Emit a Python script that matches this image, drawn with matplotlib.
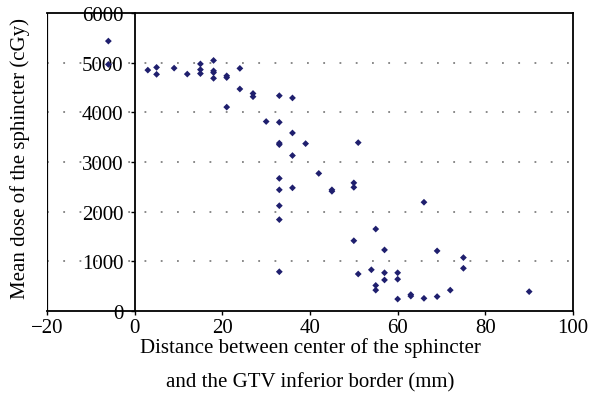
import matplotlib
matplotlib.use("Agg")
import matplotlib.pyplot as plt

distance_mm = [-6, -6, 3, 5, 5, 9, 12, 15, 15, 15, 18, 18, 18, 18, 21, 21, 21,
               24, 24, 27, 27, 30, 33, 33, 33, 33, 33, 33, 33, 33, 33, 36, 36,
               36, 36, 39, 42, 45, 45, 50, 50, 50, 51, 51, 54, 55, 55, 55, 57,
               57, 57, 60, 60, 60, 63, 63, 66, 66, 69, 69, 72, 75, 75, 90]
mean_dose_cgy = [5435, 4965, 4850, 4905, 4765, 4890, 4770, 4975, 4860, 4780,
                 5045, 4835, 4800, 4685, 4735, 4700, 4105, 4885, 4470, 4380,
                 4315, 3815, 4335, 3800, 3380, 3350, 2670, 2440, 2120, 1840,
                 790, 4290, 3585, 3130, 2480, 3370, 2770, 2440, 2410, 2580,
                 2490, 1415, 3390, 745, 830, 1650, 515, 420, 1230, 770, 625,
                 770, 640, 240, 330, 300, 2190, 255, 1210, 290, 420, 1075, 860,
                 390]

x_ticks = [-20, 0, 20, 40, 60, 80, 100]
y_ticks = [0, 1000, 2000, 3000, 4000, 5000, 6000]

plt.rcParams['font.family'] = ['Liberation Serif', 'DejaVu Serif']

fig = plt.figure(figsize=(5.97, 4.02), dpi=100)
ax = fig.add_axes([47/597, 1 - 312/402, 526/597, 298/402])

ax.set_xlim(-20, 100)
ax.set_ylim(0, 6000)

for yv in y_ticks[1:-1]:
    ax.axhline(yv, color='#808080', lw=1.3, linestyle=(0, (1, 8)), zorder=1)

ax.scatter(distance_mm, mean_dose_cgy, marker='D', s=12, color='#1f1f6e',
           edgecolors='none', zorder=3)

for s in ['top', 'bottom', 'right']:
    ax.spines[s].set_linewidth(1.3)
    ax.spines[s].set_color('black')
ax.spines['left'].set_position(('data', 0))
ax.spines['left'].set_linewidth(1.3)
ax.axvline(-20, color='black', lw=1.6, zorder=4)

ax.set_xticks(x_ticks)
ax.set_yticks(y_ticks)
ax.tick_params(axis='both', labelsize=15, length=3, width=1, direction='out')
ax.tick_params(axis='y', pad=5)
ax.tick_params(axis='x', pad=2)

ax.set_ylabel('Mean dose of the sphincter (cGy)', fontsize=15)
ax.yaxis.set_label_coords(-0.033, 0.515)
ax.set_xlabel('Distance between center of the sphincter\nand the GTV inferior border (mm)',
              fontsize=15, linespacing=2.05, labelpad=0)

fig.savefig('out.png', dpi=100)
